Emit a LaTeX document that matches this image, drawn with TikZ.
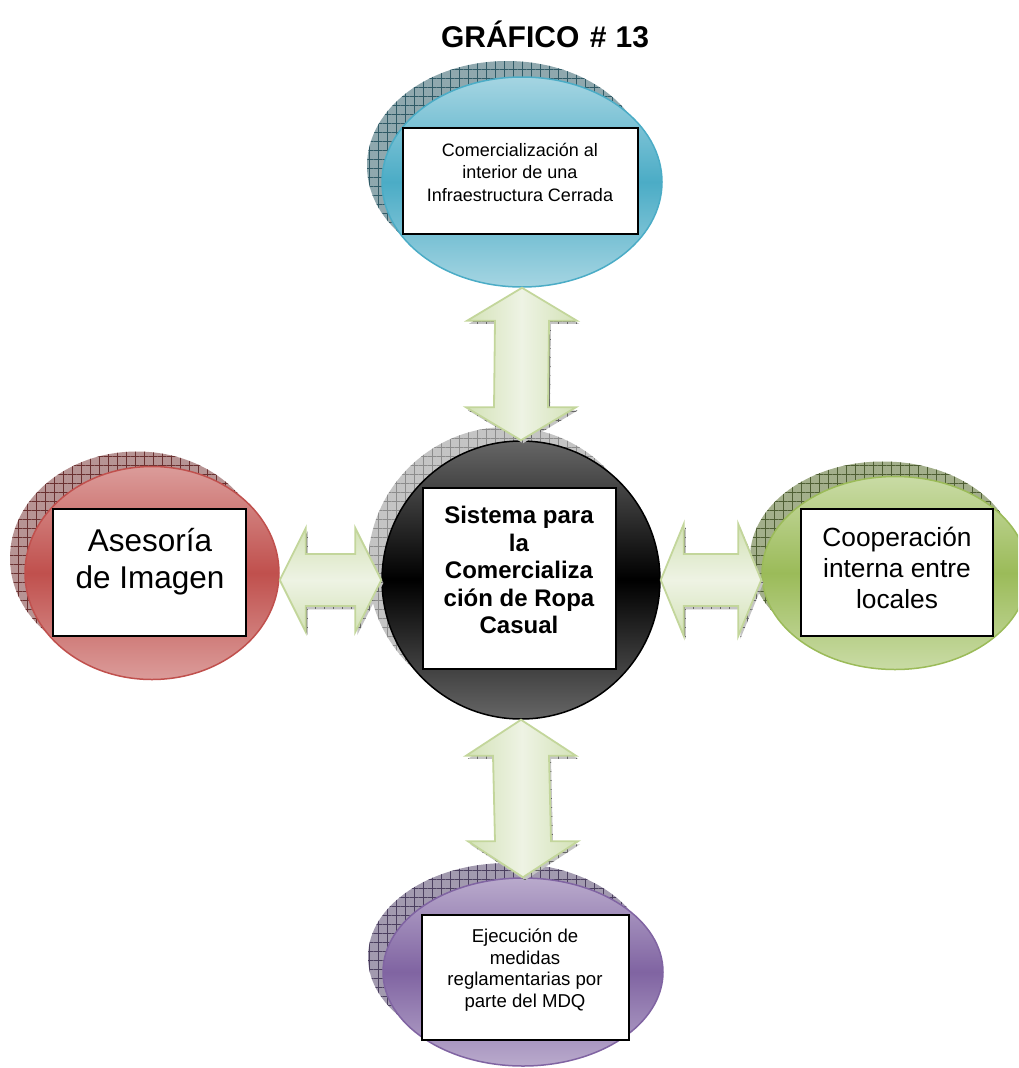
\documentclass[tikz,border=0pt]{standalone}
\usepackage{fontspec}
\setmainfont{Liberation Sans}
\usetikzlibrary{shapes.geometric, calc, patterns.meta}
\definecolor{BlueMid}{HTML}{4BACC6}
\definecolor{BlueLight}{HTML}{A5D5E2}
\definecolor{RedMid}{HTML}{C0504D}
\definecolor{RedLight}{HTML}{DB9C9A}
\definecolor{GreenMid}{HTML}{9BBB59}
\definecolor{GreenLight}{HTML}{C9DBA5}
\definecolor{PurpleMid}{HTML}{8064A2}
\definecolor{PurpleLight}{HTML}{B9AACC}
\definecolor{BlueShdF}{HTML}{8FA8AE}
\definecolor{BlueShdL}{HTML}{2F5A66}
\definecolor{RedShdF}{HTML}{B79494}
\definecolor{RedShdL}{HTML}{6A3030}
\definecolor{GreenShdF}{HTML}{A3AF8B}
\definecolor{GreenShdL}{HTML}{4E5E33}
\definecolor{PurpleShdF}{HTML}{A29AAF}
\definecolor{PurpleShdL}{HTML}{4B3F5F}
\definecolor{GreyShdF}{HTML}{C4C4C4}
\definecolor{GreyShdL}{HTML}{8C8C8C}
\definecolor{ArrowEdge}{HTML}{C3D69B}
\definecolor{ArrowLight}{HTML}{EEF3E4}
\definecolor{ArrowDark}{HTML}{D3E2B6}
\tikzset{
  bubble/.style 2 args={ellipse, draw=#1, line width=1.5pt, top color=#2, bottom color=#2, middle color=#1},
  bubshd/.style 2 args={ellipse, preaction={fill=#1}, pattern={Hatch[angle=0,distance=9pt,line width=.5pt]}, pattern color=#2},
  txtbox/.style={draw=black, line width=1.8pt, fill=white},
  arr/.style={draw=ArrowEdge, line width=1.8pt, line join=miter,
    preaction={fill=GreyShdF, transform canvas={shift={(2pt,-3pt)}}},
    preaction={pattern={Hatch[angle=0,distance=9pt,line width=.5pt]}, pattern color=black!60, transform canvas={shift={(2pt,-3pt)}}}},
}
\begin{document}
\begin{tikzpicture}[x=1pt, y=-1pt]
    \clip (0,0) rectangle (1018,1068);
    \node[font=\bfseries\fontsize{30}{34}\selectfont] (title) at (545,34) {GRÁFICO\hspace{0.35em}\#\hspace{0.3em}13};

    % shadows
    \node[bubshd={BlueShdF}{BlueShdL}, minimum width=280pt, minimum height=210pt] (infrashd) at (507,166) {};
    \node[bubshd={GreyShdF}{GreyShdL}, circle, minimum size=278pt] (coreshd) at (507,566) {};
    \node[bubshd={RedShdF}{RedShdL}, minimum width=254pt, minimum height=213pt] (asesshd) at (137,558) {};
    \node[bubshd={GreenShdF}{GreenShdL}, minimum width=266pt, minimum height=193pt] (coopshd) at (883,558) {};
    \node[bubshd={PurpleShdF}{PurpleShdL}, minimum width=280pt, minimum height=188pt] (ejecshd) at (508,957) {};

    % bubbles
    \node[bubble={BlueMid}{BlueLight}, minimum width=280pt, minimum height=210pt] (infra) at (522,182) {};
    \node[circle, draw=black, line width=1.5pt, top color=black!60, bottom color=black!60, middle color=black, minimum size=278pt] (core) at (521,580) {};
    \node[bubble={RedMid}{RedLight}, minimum width=254pt, minimum height=213pt] (ases) at (152,573) {};
    \node[bubble={GreenMid}{GreenLight}, minimum width=266pt, minimum height=193pt] (coop) at (895,573) {};
    \node[bubble={PurpleMid}{PurpleLight}, minimum width=280pt, minimum height=188pt] (ejec) at (523,972) {};

    % boxes
    \node[txtbox, minimum width=235pt, minimum height=106pt] (infrabox) at (520.5,181) {};
    \node[txtbox, minimum width=193pt, minimum height=181pt] (corebox) at (519.5,578.5) {};
    \node[txtbox, minimum width=193pt, minimum height=127pt] (asesbox) at (149.5,572.5) {};
    \node[txtbox, minimum width=192pt, minimum height=127pt] (coopbox) at (897,572.5) {};
    \node[txtbox, minimum width=207pt, minimum height=125pt] (ejecbox) at (525.5,977.5) {};

    \node[font=\fontsize{18}{22.5}\selectfont, align=center] (infratxt) at (520,172) {Comercialización al\\interior de una\\Infraestructura Cerrada};
    \node[font=\bfseries\fontsize{24}{27.5}\selectfont, align=center] (coretxt) at (519,570) {Sistema para\\la\\Comercializa\\ción de Ropa\\Casual};
    \node[font=\fontsize{31.5}{37}\selectfont, align=center] (asestxt) at (150,562) {Asesoría\\de Imagen};
    \node[font=\fontsize{26.3}{31}\selectfont, align=center] (cooptxt) at (897,568) {Cooperación\\interna entre\\locales};
    \node[font=\fontsize{18.6}{21.5}\selectfont, align=center] (ejectxt) at (525,970) {Ejecución de\\medidas\\reglamentarias por\\parte del MDQ};

    % double arrows
    \draw[arr, left color=ArrowDark, right color=ArrowDark, middle color=ArrowLight]
        (infra.south) -- ++(55,33) -- ++(-28,0) -- ($(core.north)+(27,-33)$) -- ++(28,0) -- (core.north)
        -- ++(-55,-33) -- ++(28,0) -- ($(infra.south)+(-27,33)$) -- ++(-28,0) -- cycle;
    \draw[arr, left color=ArrowDark, right color=ArrowDark, middle color=ArrowLight]
        (core.south) -- ++(55,36) -- ++(-27,0) -- ($(ejec.north)+(28,-36)$) -- ++(27,0) -- (ejec.north)
        -- ++(-55,-36) -- ++(27,0) -- ($(core.south)+(-28,36)$) -- ++(-27,0) -- cycle;
    \draw[arr, top color=ArrowDark, bottom color=ArrowDark, middle color=ArrowLight]
        (ases.east |- core.west) -- ++(26,-52) -- ++(0,26) -- ($(core.west)+(-26,-26)$) -- ++(0,-26) -- (core.west)
        -- ++(-26,52) -- ++(0,-26) -- ($(ases.east |- core.west)+(26,26)$) -- ++(0,26) -- cycle;
    \draw[arr, top color=ArrowDark, bottom color=ArrowDark, middle color=ArrowLight]
        (core.east) -- ++(23,-56) -- ++(0,30) -- ($(coop.west |- core.east)+(-23,-26)$) -- ++(0,-30) -- (coop.west |- core.east)
        -- ++(-23,56) -- ++(0,-30) -- ($(core.east)+(23,26)$) -- ++(0,30) -- cycle;
\end{tikzpicture}
\end{document}
